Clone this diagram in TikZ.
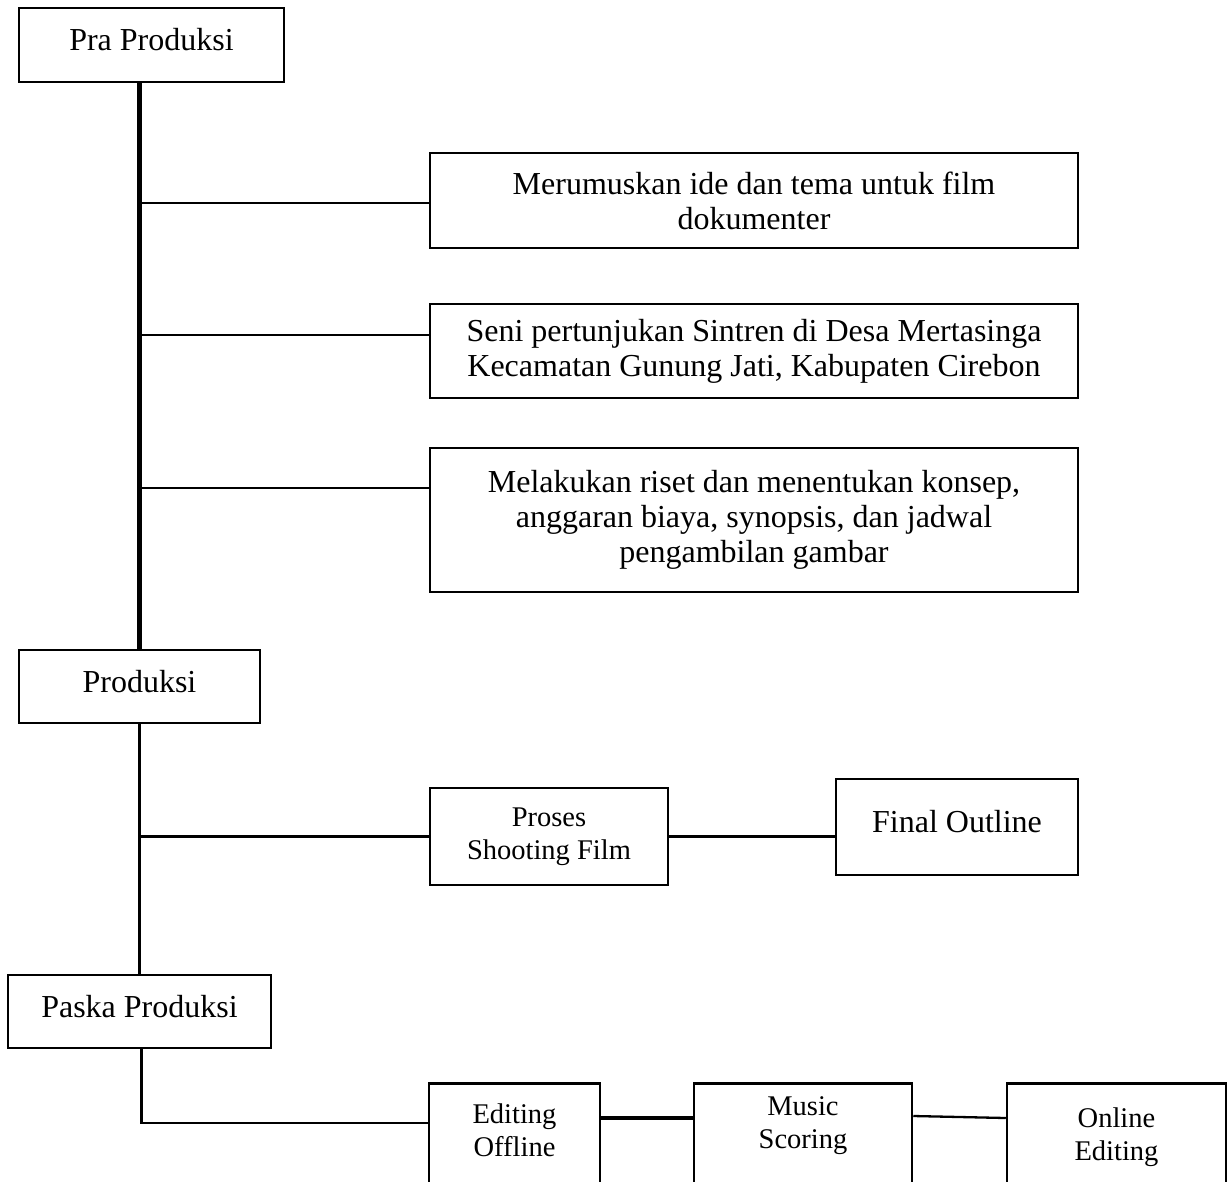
\documentclass[tikz,border=0pt]{standalone}
\usepackage{fontspec}
\setmainfont{Liberation Serif}

\begin{document}
\begin{tikzpicture}[x=1pt, y=-1pt,
            box/.style={draw, line width=2.5pt, align=center, inner sep=0pt, font=\fontsize{32}{35}\selectfont},
            smallbox/.style={box, font=\fontsize{28.5}{33}\selectfont},
            link/.style={line width=2.3pt}]
            \useasboundingbox (0, 0) rectangle (1231, 1181);
            \node[box, minimum width=265, minimum height=74, text height=22pt, text depth=11pt] (pra) at (151.5, 45) {Pra Produksi};
            \node[box, minimum width=648, minimum height=95] (ide) at (754, 200.5) {Merumuskan ide dan tema untuk film\\dokumenter};
            \node[box, minimum width=648, minimum height=94] (sintren) at (754, 351) {Seni pertunjukan Sintren di Desa Mertasinga\\Kecamatan Gunung Jati, Kabupaten Cirebon};
            \node[box, minimum width=648, minimum height=144] (riset) at (754, 520) {Melakukan riset dan menentukan konsep,\\anggaran biaya, synopsis, dan jadwal\\pengambilan gambar};
            \node[box, minimum width=241, minimum height=73, text height=22pt, text depth=11pt] (produksi) at (139.5, 686.5) {Produksi};
            \node[smallbox, minimum width=238, minimum height=97] (shooting) at (549, 836.5) {Proses\\Shooting Film};
            \node[box, minimum width=242, minimum height=96, text height=22pt, text depth=11pt] (outline) at (957, 827) {Final Outline};
            \node[box, minimum width=263, minimum height=73, text height=22pt, text depth=11pt] (paska) at (139.5, 1011.5) {Paska Produksi};
            \node[smallbox, anchor=north, minimum width=171, text height=73pt, text depth=120pt] (offline) at (514.5, 1082) {Editing\\Offline};
            \node[smallbox, anchor=north, minimum width=218, text height=65pt, text depth=120pt] (scoring) at (803, 1082) {Music\\Scoring};
            \node[smallbox, anchor=north, minimum width=219, text height=77pt, text depth=120pt] (online) at (1116.5, 1082) {Online\\Editing};
            \draw[line width=5pt] (produksi.north |- pra.south) -- (produksi.north);
            \draw[link] ([yshift=-2.5pt]ide.west) -- ([yshift=-2.5pt]ide.west -| produksi.north);
            \draw[link] ([yshift=16pt]sintren.west) -- ([yshift=16pt]sintren.west -| produksi.north);
            \draw[link] ([yshift=32pt]riset.west) -- ([yshift=32pt]riset.west -| produksi.north);
            \draw[link] (produksi.south) -- (paska.north);
            \draw[link] (shooting.west) -- (shooting.west -| produksi.south);
            \draw[link] (shooting.east) -- (shooting.east -| outline.west);
            \draw[link] ([xshift=2pt]paska.south) |- ([yshift=-41pt]offline.north west);
            \draw[line width=4.5pt] ([yshift=-36pt]offline.north east) -- ([yshift=-36pt]scoring.north west);
            \draw[link] ([yshift=-34pt]scoring.north east) -- ([yshift=-36pt]online.north west);
        \end{tikzpicture}
\end{document}
